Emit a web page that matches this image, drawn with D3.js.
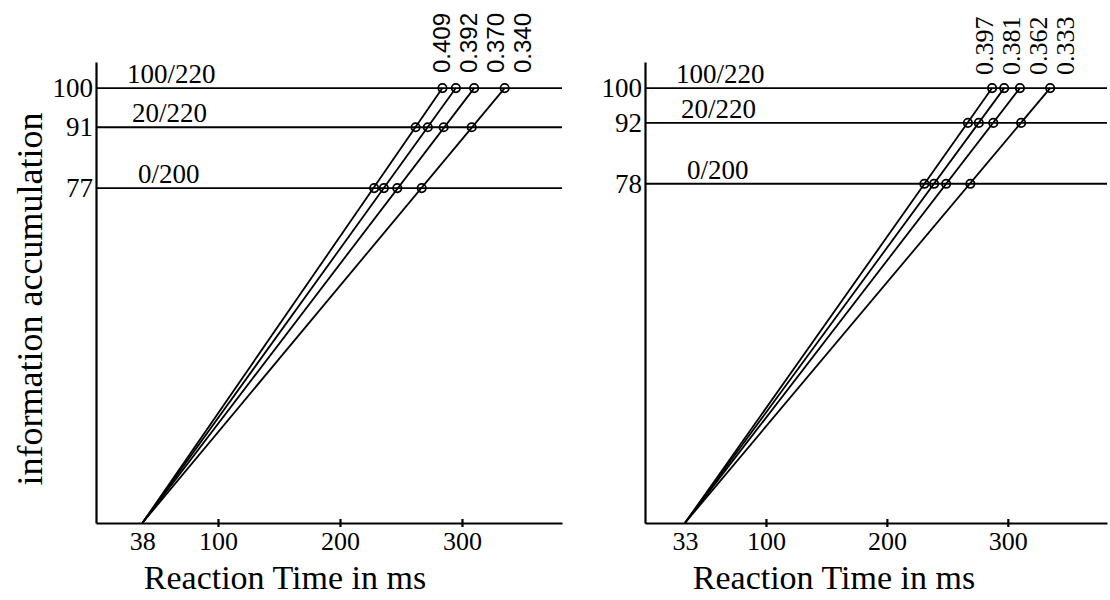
<!DOCTYPE html>
<html>
<head>
<meta charset="utf-8">
<script src="https://cdn.jsdelivr.net/npm/d3@7"></script>
<style>
  body { margin: 0; background: #fff; }
  svg text { fill: #000; }
</style>
</head>
<body>
<svg id="chart" width="1110" height="600"></svg>
<script>
// Values

// left panel
const originA = 38;
const levelsA = [100, 91, 77];
const levelLabelsA = ["100/220", "20/220", "0/200"];
const slopeLabelsA = ["0.409", "0.392", "0.370", "0.340"];
const rtA100 = [284, 295, 310, 335];
const rtA91 = [262, 272, 285, 308];
const rtA77 = [228, 236, 247, 267];

// right panel
const originB = 33;
const levelsB = [100, 92, 78];
const levelLabelsB = ["100/220", "20/220", "0/200"];
const slopeLabelsB = ["0.397", "0.381", "0.362", "0.333"];
const rtB100 = [287, 297, 310, 335];
const rtB92 = [267, 276, 288, 311];
const rtB78 = [231, 239, 249, 269];

const xTicks = [100, 200, 300];
const xMax = 382, yMax = 106;

const serif = "'Liberation Serif', 'Times New Roman', serif";
const sans = "'Liberation Sans', Arial, sans-serif";

let svg = d3.select("#chart");

// Draw one panel
function drawPanel(p) {
    let x = d3.scaleLinear().domain([0, xMax]).range([p.left, p.right]);
    let y = d3.scaleLinear().domain([0, yMax]).range([523, 62]);
    let g = svg.append("g");

    // level lines
    g.selectAll(".level")
        .data(p.levels)
        .enter()
        .append("line")
        .attr("x1", x(0)).attr("x2", x(xMax))
        .attr("y1", d => y(d)).attr("y2", d => y(d))
        .style("stroke", "#000")
        .style("stroke-width", 1.8);

    // level labels
    const labelOffsets = [31, 36, 42];
    g.selectAll(".levlab")
        .data(p.levels)
        .enter()
        .append("text")
        .attr("x", (d, i) => x(0) + labelOffsets[i])
        .attr("y", d => y(d) - 5)
        .style("font-family", serif)
        .style("font-size", "27px")
        .text((d, i) => p.levelLabels[i]);

    // x axis
    let xAxis = g.append("g")
        .attr("transform", `translate(0, ${y(0)})`)
        .call(d3.axisBottom(x)
            .tickValues([p.origin].concat(xTicks))
            .tickSizeOuter(0)
            .tickSizeInner(3));
    xAxis.select(".domain").style("stroke-width", 2.2);
    xAxis.selectAll(".tick line")
        .attr("y1", -4).attr("y2", 4)
        .style("stroke-width", 2.2)
        .filter(d => d === p.origin).remove();
    xAxis.selectAll(".tick text")
        .attr("y", 9)
        .style("font-family", serif)
        .style("font-size", "26px");

    // y axis
    let yAxis = g.append("g")
        .attr("transform", `translate(${x(0)}, 0)`)
        .call(d3.axisLeft(y)
            .tickValues(p.levels)
            .tickSizeOuter(0)
            .tickSizeInner(0)
            .tickPadding(3));
    yAxis.select(".domain").style("stroke-width", 2.2);
    yAxis.selectAll(".tick text")
        .style("font-family", serif)
        .style("font-size", "27px");

    // accumulation lines from the origin to the top level
    let lines = p.rt[0].map((d, i) => ({start: p.origin, end: d}));
    g.selectAll(".acc")
        .data(lines)
        .enter()
        .append("line")
        .attr("x1", d => x(d.start)).attr("y1", y(0))
        .attr("x2", d => x(d.end)).attr("y2", y(p.levels[0]))
        .style("stroke", "#000")
        .style("stroke-width", 1.8);

    // circles where the lines cross each level
    let pts = [];
    p.levels.forEach(function (lev, li) {
        p.rt[li].forEach(function (t) {
            pts.push({t: t, lev: lev});
        });
    });
    g.selectAll(".pt")
        .data(pts)
        .enter()
        .append("circle")
        .attr("cx", d => x(d.t))
        .attr("cy", d => y(d.lev))
        .attr("r", 4.2)
        .style("fill", "none")
        .style("stroke", "#000")
        .style("stroke-width", 1.8);

    // slope labels, rotated
    let cx0 = x(p.rt[0][0]) + p.labelShift;
    g.selectAll(".slope")
        .data(p.slopes)
        .enter()
        .append("text")
        .attr("transform", (d, i) => `translate(${cx0 + i * 26.8 + 8}, ${p.slopeY}) rotate(-90)`)
        .style("font-family", p.slopeFont)
        .style("font-size", p.slopeSize)
        .text(d => d);

    // x axis title
    g.append("text")
        .attr("x", x(0) + 189)
        .attr("y", 589)
        .attr("text-anchor", "middle")
        .style("font-family", serif)
        .style("font-size", "34px")
        .text("Reaction Time in ms");
}

drawPanel({
    left: 96, right: 562, origin: originA,
    levels: levelsA, levelLabels: levelLabelsA,
    rt: [rtA100, rtA91, rtA77],
    slopes: slopeLabelsA, labelShift: 0, slopeY: 73,
    slopeFont: sans, slopeSize: "24px"
});

drawPanel({
    left: 645, right: 1107, origin: originB,
    levels: levelsB, levelLabels: levelLabelsB,
    rt: [rtB100, rtB92, rtB78],
    slopes: slopeLabelsB, labelShift: -7, slopeY: 75,
    slopeFont: serif, slopeSize: "26px"
});

// y axis title (left panel only)
svg.append("text")
    .attr("transform", "translate(42, 299) rotate(-90)")
    .attr("text-anchor", "middle")
    .style("font-family", serif)
    .style("font-size", "36px")
    .text("information accumulation");
</script>
</body>
</html>
